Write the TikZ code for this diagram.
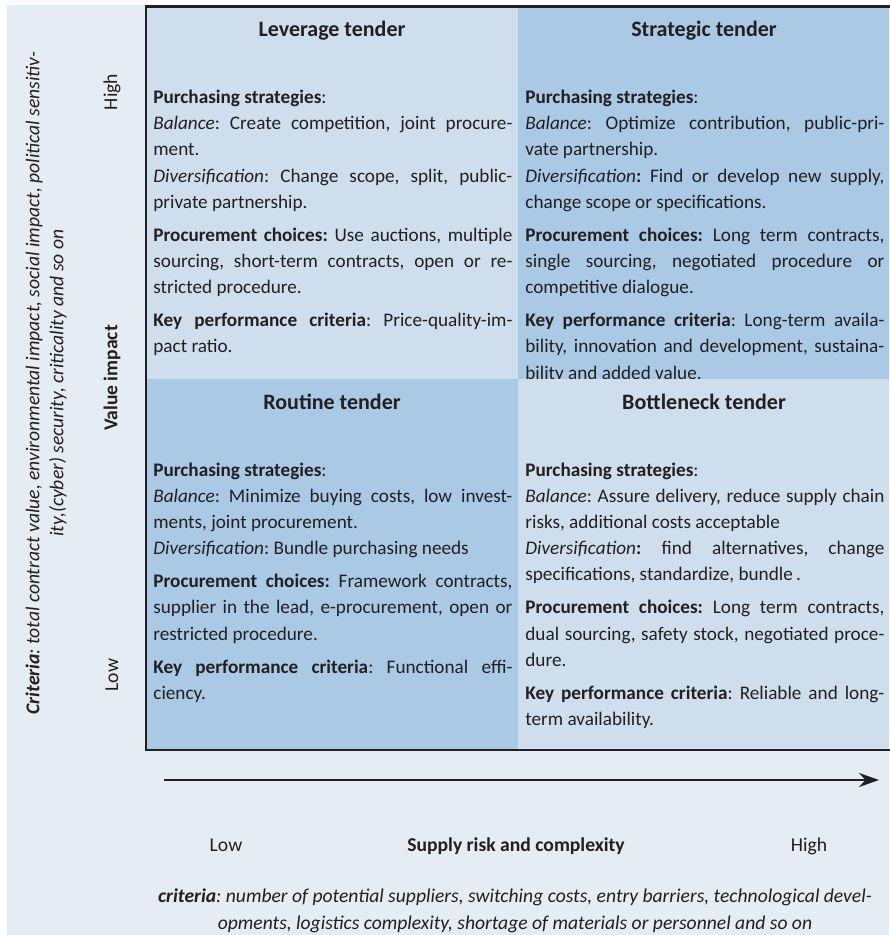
\documentclass[tikz,border=0pt]{standalone}
\usepackage{fontspec}
\setmainfont{Carlito}[WordSpace={1,1,2}]
\usetikzlibrary{arrows.meta}
\frenchspacing

\definecolor{pagebg}{RGB}{229,236,244}
\definecolor{lightquad}{RGB}{207,222,236}
\definecolor{darkquad}{RGB}{169,201,228}
\definecolor{inkgrey}{RGB}{35,31,32}

\newcommand{\blockgap}{\par\vspace{3.4pt}}
\newcommand{\bodyfont}{\fontsize{9.6}{13.1}\selectfont\sloppy\hyphenpenalty=10000\relax}

\tikzset{
  quadtitle/.style={font=\fontsize{11}{13}\selectfont\bfseries, text=inkgrey, inner sep=0pt, anchor=base},
  quadbody/.style={font=\bodyfont, text=inkgrey, align=justify,
    inner sep=0pt, anchor=base west, text width=179.5pt},
  axislabel/.style={font=\fontsize{9.8}{12}\selectfont, text=inkgrey, inner sep=0pt},
  criteria/.style={font=\fontsize{9.8}{12}\selectfont\itshape, text=inkgrey, inner sep=0pt, align=center}
}

\begin{document}
\begin{tikzpicture}[x=0.5pt, y=-0.5pt]
                \useasboundingbox (0,0) rectangle (889,935);
                
                % Drawing page background
                \fill [pagebg] (7,5) rectangle (889,935);%
                
                % Drawing upper quadrants
                \fill [lightquad] (146,6) rectangle (518,379);%
                \fill [darkquad] (518,6) rectangle (889,379);%
                
                % Marking leverage tender
                \node [quadtitle] (leverage) at (332,37) {Leverage tender};%
                \node [quadbody] (leverage text) at (153,103.5) {%
                  \textbf{Purchasing strategies}:\\
                  \textit{Balance}: Create competition, joint procure-\linebreak ment.\\
                  \textit{Diversification}: Change scope, split, public-\linebreak private partnership.\blockgap
                  \textbf{Procurement choices:} Use auctions, multiple\linebreak sourcing, short-term contracts, open or re-\linebreak stricted procedure.\blockgap
                  \textbf{Key performance criteria}: Price-quality-im-\linebreak pact ratio.};%
                
                % Marking strategic tender
                \node [quadtitle] (strategic) at (704,37) {Strategic tender};%
                \node [quadbody] (strategic text) at (525,103.5) {%
                  \textbf{Purchasing strategies}:\\
                  \textit{Balance}: Optimize contribution, public-pri-\linebreak vate partnership.\\
                  \textit{Diversification}\textbf{:} Find or develop new supply,\linebreak change scope or specifications.\blockgap
                  \textbf{Procurement choices:} Long term contracts,\linebreak single sourcing, negotiated procedure or\linebreak competitive dialogue.\blockgap
                  \textbf{Key performance criteria}: Long-term availa-\linebreak bility, innovation and development, sustaina-\linebreak bility and added value.};%
                
                % Drawing lower quadrants
                \fill [darkquad] (146,379) rectangle (518,750);%
                \fill [lightquad] (518,379) rectangle (889,750);%
                
                % Marking routine tender
                \node [quadtitle] (routine) at (332,409) {Routine tender};%
                \node [quadbody] (routine text) at (153,476) {%
                  \textbf{Purchasing strategies}:\\
                  \textit{Balance}: Minimize buying costs, low invest-\linebreak ments, joint procurement.\\
                  \textit{Diversification}: Bundle purchasing needs\blockgap
                  \textbf{Procurement choices:} Framework contracts,\linebreak supplier in the lead, e-procurement, open or\linebreak restricted procedure.\blockgap
                  \textbf{Key performance criteria}: Functional effi-\linebreak ciency.};%
                
                % Marking bottleneck tender
                \node [quadtitle] (bottleneck) at (704,409) {Bottleneck tender};%
                \node [quadbody] (bottleneck text) at (525,476) {%
                  \textbf{Purchasing strategies}:\\
                  \textit{Balance}: Assure delivery, reduce supply chain\linebreak risks, additional costs acceptable\\
                  \textit{Diversification}\textbf{:} find alternatives, change\linebreak specifications, standardize, bundle\,.\blockgap
                  \textbf{Procurement choices:} Long term contracts,\linebreak dual sourcing, safety stock, negotiated proce-\linebreak dure.\blockgap
                  \textbf{Key performance criteria}: Reliable and long-\linebreak term availability.};%
                
                % Drawing matrix frame
                \draw [inkgrey, line width=1.25pt] (900,6.5) -| (146,750) -- (900,750);%
                
                % Marking value axis
                \node [axislabel, rotate=90] (value high) at (112,92) {High};%
                \node [axislabel, rotate=90, font=\fontsize{9.8}{12}\selectfont\bfseries] (value impact) at (112,378) {Value impact};%
                \node [axislabel, rotate=90] (value low) at (112,675) {Low};%
                \node [criteria, rotate=90] (value criteria) at (46,383) {%
                  \textbf{Criteria}: total contract value, environmental impact, social impact, political sensitiv-\\
                  ity,(cyber) security, criticality and so on};%
                
                % Drawing risk axis
                \coordinate (risk start) at (164,780);
                \coordinate (risk end) at (879,780);
                \draw [inkgrey, line width=1pt, -{Stealth[length=10pt, width=7pt]}] (risk start) -- (risk end);%
                \node [axislabel, anchor=base] (risk low) at (226,851) {Low};%
                \node [axislabel, anchor=base, font=\fontsize{9.8}{12}\selectfont\bfseries] (risk label) at (516,851) {Supply risk and complexity};%
                \node [axislabel, anchor=base] (risk high) at (809,851) {High};%
                \node [criteria, font=\fontsize{9.8}{13.5}\selectfont\itshape] (risk criteria) at (515,911) {%
                  \textbf{criteria}: number of potential suppliers, switching costs, entry barriers, technological devel-\\
                  opments, logistics complexity, shortage of materials or personnel and so on};%
\end{tikzpicture}
\end{document}
